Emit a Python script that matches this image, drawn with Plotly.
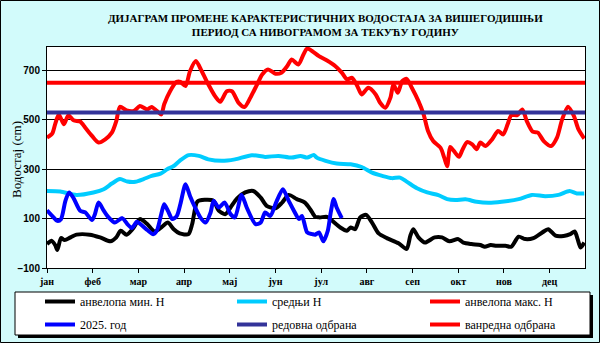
import plotly.graph_objects as go

# Day-of-year (0 = 1 Jan) and water level (cm) for each series
MIN_H = [(0, -3), (3, 10), (5.5, -7), (7, -27), (9.5, 21), (12, 13), (16, 24), (20, 35), (29, 35),
         (36, 24), (43, 8), (47, 24), (50, 51), (54, 35), (58, 57), (63, 98), (68, 78), (73, 48),
         (78, 67), (82, 84), (86, 57), (90, 40), (96, 37), (98.5, 78), (102, 169), (107, 176),
         (113, 172), (116.5, 132), (121, 118), (124.5, 145), (129, 182), (134.5, 206), (140, 212),
         (145, 185), (149, 152), (155, 142), (159.5, 165), (164, 196), (169.5, 179), (175, 165),
         (179, 134), (182, 107), (185, 105), (190, 107), (193, 94), (199, 64), (203.5, 51),
         (206, 64), (209, 57), (212.5, 105), (216.5, 115), (220.5, 84), (225, 40), (230.5, 21),
         (238.5, 0), (244, -23), (246.5, 31), (248.5, 57), (252, 24), (256.5, 3), (263, 24),
         (268, 24), (273, 8), (279, 17), (282.5, 3), (288, -3), (294, -7), (297, -14), (301, -7),
         (305, -10), (311, -10), (315, -14), (320, 27), (324.5, 17), (330, 21), (336, 44),
         (340, 57), (345, 31), (350.5, 30), (355, 37), (358, 48), (360, 17), (362, -17), (364.5, 3)]

AVG_H = [(0, 212), (9, 210), (20, 196), (31.5, 206), (38.5, 219), (44, 242), (49.5, 260), (54.5, 250),
         (60, 249), (65.5, 260), (71, 273), (77, 282), (81.5, 300), (86, 313), (90, 334), (96, 357),
         (103, 354), (109.5, 340), (118.5, 334), (127.5, 340), (139, 357), (148, 350), (157, 354),
         (166, 347), (172, 354), (176.5, 347), (181, 358), (183, 347), (189, 334), (196.5, 323),
         (206, 320), (213.5, 309), (220.5, 286), (227.5, 273), (234, 264), (239.5, 266), (244, 250),
         (251, 223), (258, 206), (265.5, 195), (271.5, 179), (277, 175), (284, 178), (291.5, 168),
         (299.5, 164), (308.5, 168), (320, 179), (329, 196), (338, 191), (347, 196), (354.5, 212),
         (359.5, 202), (364.5, 202)]

MAX_H = [(0, 428), (3.5, 444), (5.5, 482), (8, 522), (11.5, 482), (14.5, 519), (18, 498), (22.5, 493),
         (26, 468), (30.5, 435), (35, 408), (39.5, 421), (44, 448), (47, 495), (49.5, 553), (54, 538),
         (59, 536), (63, 556), (68, 542), (71, 552), (74.5, 536), (77.5, 522), (79.5, 563),
         (83.5, 616), (88, 654), (90.5, 654), (94, 637), (97, 697), (101, 738), (105, 697),
         (109.5, 643), (114, 596), (117.5, 573), (122, 616), (125.5, 616), (130, 569), (134, 552),
         (138, 590), (142.5, 643), (146, 684), (150, 704), (155, 687), (159, 691), (163, 718),
         (166, 744), (170.5, 724), (174, 765), (176.5, 789), (180, 778), (184.5, 758), (190, 740),
         (195.5, 718), (200, 691), (203.5, 664), (207, 670), (210.5, 637), (213.5, 603), (218, 630),
         (223, 603), (226, 569), (229.5, 549), (233, 590), (235, 643), (238, 610), (241, 657),
         (244, 666), (247.5, 630), (252, 576), (255.5, 522), (258.5, 455), (262, 414), (267, 387),
         (269.5, 347), (271.5, 312), (273.5, 390), (276, 374), (279.5, 350), (281.5, 374),
         (285, 410), (288.5, 401), (291.5, 381), (294, 408), (297.5, 394), (302, 421), (306, 455),
         (309.5, 441), (312.5, 482), (315, 519), (319, 519), (322.5, 542), (325.5, 495),
         (329.5, 452), (333, 448), (337, 414), (342, 394), (346, 428), (349.5, 502), (353.5, 553),
         (357.5, 515), (360.5, 462), (364.5, 424)]

Y2025 = [(0, 134), (3.5, 111), (7, 91), (9.5, 98), (12.5, 172), (15, 206), (18, 183), (22.5, 132),
         (26, 125), (30.5, 94), (32.5, 118), (35, 165), (38.5, 132), (41.5, 107), (46, 84), (51, 102),
         (54.5, 78), (57.5, 62), (61, 87), (63, 80), (68, 54), (72, 37), (74.5, 51), (77.5, 118),
         (79.5, 158), (82, 132), (85, 98), (88, 110), (90.5, 159), (94, 239), (97, 192), (100.5, 145),
         (104, 105), (107.5, 84), (111, 125), (113, 172), (116.5, 145), (120.5, 165), (124.5, 118),
         (127.5, 105), (132, 196), (135.5, 145), (141.5, 78), (145, 84), (148, 125), (151.5, 111),
         (155, 159), (160, 219), (164, 172), (167.5, 132), (171, 98), (173, 111), (176.5, 44),
         (180, 37), (182, 35), (184.5, 44), (187.5, 8), (190.5, 51), (192.5, 125), (194.5, 179),
         (196.5, 145), (200, 102)]

REDOVNA = 530     # regular flood defence level
VANREDNA = 650    # emergency flood defence level
YEAR_SPAN = (0, 365)

MONTHS = ["јан", "феб", "мар", "апр", "мај", "јун", "јул", "авг", "сеп", "окт", "нов", "дец"]
MONTH_TICKS = [31 * i for i in range(12)]
Y_TICKS = [-100, 100, 300, 500, 700]

W, H = 600, 343
ML, MR, MT, MB = 47, 15, 47, 75
PW, PH = W - ML - MR, H - MT - MB


def px_x(p):
    return (p - ML) / PW


def px_y(p):
    return (H - MB - p) / PH


def xy(pairs):
    return [p[0] for p in pairs], [p[1] for p in pairs]


serif = "Liberation Serif"

# (name, data or flat level, colour, legend id, legend left px, legend top px)
entries = [
    ("анвелопа мин. H", MIN_H, "#000000", "legend", 40, 287),
    ("средњи H", AVG_H, "#00CCFF", "legend2", 232, 287),
    ("анвелопа макс. H", MAX_H, "#FF0000", "legend3", 425, 287),
    ("2025. год", Y2025, "#0000FF", "legend4", 40, 310),
    ("редовна одбрана", REDOVNA, "#333399", "legend5", 232, 310),
    ("ванредна одбрана", VANREDNA, "#FF0000", "legend6", 425, 310),
]

fig = go.Figure()
legends = {}
# draw order: envelopes, mean, defence levels, then current year on top
draw_order = [0, 2, 1, 4, 5, 3]
for i in draw_order:
    name, data, color, leg, lx, ly = entries[i]
    if isinstance(data, list):
        x, y = xy(data)
        line = dict(color=color, width=4, shape="spline", smoothing=0.7)
    else:
        x, y = list(YEAR_SPAN), [data, data]
        line = dict(color=color, width=4)
    fig.add_trace(go.Scatter(x=x, y=y, name=name, mode="lines", legend=leg, line=line))
    legends[leg] = dict(x=lx / W, y=1 - ly / H, xref="container", yref="container",
                        xanchor="left", yanchor="top",
                        orientation="h", bgcolor="rgba(0,0,0,0)", borderwidth=0,
                        font=dict(family=serif, size=12, color="#000"))

shapes = [
    # outer frame
    dict(type="rect", xref="paper", yref="paper", x0=px_x(0.5), x1=px_x(W - 0.5),
         y0=px_y(H - 0.5), y1=px_y(0.5), line=dict(color="#000", width=1), layer="below"),
    # legend box shadow and box
    dict(type="rect", xref="paper", yref="paper", x0=px_x(18), x1=px_x(593),
         y0=px_y(338), y1=px_y(295), fillcolor="#000", line=dict(width=0)),
    dict(type="rect", xref="paper", yref="paper", x0=px_x(15), x1=px_x(590),
         y0=px_y(335), y1=px_y(292), fillcolor="#fff", line=dict(color="#000", width=1)),
]

annotations = [
    dict(text="ДИЈАГРАМ ПРОМЕНЕ КАРАКТЕРИСТИЧНИХ ВОДОСТАЈА ЗА ВИШЕГОДИШЊИ<br>ПЕРИОД СА НИВОГРАМОМ ЗА ТЕКУЋУ ГОДИНУ",
         xref="paper", yref="paper", x=px_x(325), y=px_y(25), xanchor="center", yanchor="middle",
         showarrow=False, font=dict(family=serif, size=11, color="#000", weight="bold")),
    dict(text="Водостај (cm)", xref="paper", yref="paper", x=px_x(16), y=px_y(160),
         xanchor="center", yanchor="middle", textangle=-90, showarrow=False,
         font=dict(family=serif, size=13, color="#000")),
]

fig.update_layout(
    width=W, height=H,
    margin=dict(l=ML, r=MR, t=MT, b=MB, autoexpand=False),
    paper_bgcolor="#d2fbfb", plot_bgcolor="#ffffff",
    showlegend=True,
    shapes=shapes, annotations=annotations,
    xaxis=dict(range=list(YEAR_SPAN), tickvals=MONTH_TICKS, ticktext=MONTHS, showgrid=False,
               zeroline=False, showline=True, linecolor="#000", linewidth=1, mirror=True,
               ticks="outside", ticklen=4, tickcolor="#000", automargin=False,
               tickfont=dict(family=serif, size=10, color="#000", weight="bold")),
    yaxis=dict(range=[-100, 795], tickvals=Y_TICKS, showgrid=True, gridcolor="#000", gridwidth=1,
               zeroline=False, showline=True, linecolor="#000", linewidth=1, mirror=True,
               ticks="outside", ticklen=4, tickcolor="#000", automargin=False,
               tickfont=dict(family="Liberation Sans", size=10, color="#000", weight="bold")),
    **legends,
)

fig.write_html("out.html")
